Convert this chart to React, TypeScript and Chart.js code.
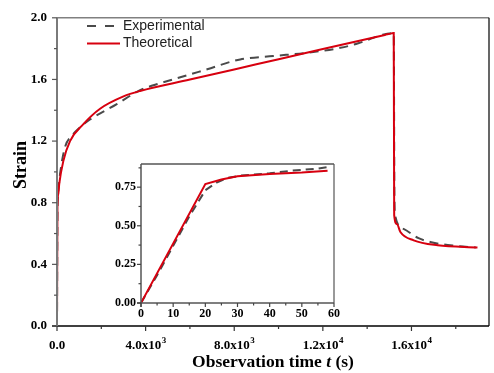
import React, { useEffect, useRef } from "react";
import { Chart, registerables } from "chart.js";
Chart.register(...registerables);

// ---------- data ----------
const expTime = [0, 20, 60, 150, 360, 700, 1040, 1490, 2700, 3750, 4650, 5240, 6780, 8270, 9760, 11300, 12790, 13600, 14280, 14700, 15200, 15230, 15260, 15640, 16320, 17000, 18000, 18900];
const expStrain = [0, 0.73, 0.88, 1.0, 1.16, 1.24, 1.29, 1.34, 1.44, 1.53, 1.575, 1.6, 1.666, 1.73, 1.752, 1.773, 1.805, 1.835, 1.87, 1.89, 1.9, 0.86, 0.72, 0.63, 0.57, 0.54, 0.52, 0.51];

const theoTime = [0, 20, 60, 100, 285, 588, 1190, 1944, 3000, 3750, 6000, 9000, 12000, 14800, 15100, 15200, 15220, 15350, 15500, 16100, 17180, 18980];
const theoStrain = [0, 0.77, 0.86, 0.92, 1.07, 1.2, 1.31, 1.41, 1.49, 1.525, 1.599, 1.698, 1.797, 1.889, 1.899, 1.902, 0.72, 0.66, 0.61, 0.556, 0.524, 0.51];

const insetExpTime = [0, 5, 10, 15, 20, 23.5, 27, 31, 40, 47, 55, 58.7];
const insetExpStrain = [0, 0.18, 0.37, 0.56, 0.73, 0.78, 0.81, 0.825, 0.84, 0.857, 0.87, 0.883];
const insetTheoTime = [0, 20, 25, 30, 40, 50, 58];
const insetTheoStrain = [0, 0.77, 0.8, 0.82, 0.835, 0.845, 0.857];

const mainXTicks = [0, 4000, 8000, 12000, 16000];
const mainXTickBase = ["0.0", "4.0x10", "8.0x10", "1.2x10", "1.6x10"];
const mainXTickExp = ["", "3", "3", "4", "4"];
const mainXMinor = [2000, 6000, 10000, 14000, 18000];
const mainYTicks = [0, 0.4, 0.8, 1.2, 1.6, 2.0];
const mainYMinor = [0.2, 0.6, 1.0, 1.4, 1.8];
const insetXTicks = [0, 10, 20, 30, 40, 50, 60];
const insetXMinor = [5, 15, 25, 35, 45, 55];
const insetYTicks = [0, 0.25, 0.5, 0.75];
const insetYMinor = [0.125, 0.375, 0.625, 0.875];

const legendLabels = ["Experimental", "Theoretical"];
const xTitleParts = ["Observation time ", "t", " (s)"];
const yTitle = "Strain";

const SERIF = '"Liberation Serif", "Times New Roman", serif';
const SANS = '"Liberation Sans", Arial, sans-serif';
const RED = "#d7000f";
const DASH = "#4a4a4a";

const zip = (xs: number[], ys: number[]) => xs.map((x, i) => ({ x, y: ys[i] }));

function line(ctx: CanvasRenderingContext2D, x1: number, y1: number, x2: number, y2: number, color: string, w: number) {
  ctx.save();
  ctx.strokeStyle = color;
  ctx.lineWidth = w;
  ctx.beginPath();
  ctx.moveTo(x1, y1);
  ctx.lineTo(x2, y2);
  ctx.stroke();
  ctx.restore();
}

const mainPlugin = {
  id: "mainDecor",
  afterDraw(chart: any) {
    const ctx: CanvasRenderingContext2D = chart.ctx;
    const a = chart.chartArea;
    const xs = chart.scales.x;
    const ys = chart.scales.y;
    // box
    line(ctx, a.left, a.top, a.right, a.top, "#808080", 1.5);
    line(ctx, a.right, a.top, a.right, a.bottom, "#000", 1.2);
    line(ctx, a.left - 5, a.bottom, a.right, a.bottom, "#000", 1.5);
    line(ctx, a.left, a.top, a.left, a.bottom, "#7a7a7a", 2);
    // ticks
    mainXTicks.forEach((v) => {
      const p = xs.getPixelForValue(v);
      line(ctx, p, a.bottom, p, a.bottom + 5, "#333", 1.2);
    });
    mainXMinor.forEach((v) => {
      const p = xs.getPixelForValue(v);
      line(ctx, p, a.bottom, p, a.bottom + 3, "#333", 1.2);
    });
    mainYTicks.forEach((v) => {
      const p = ys.getPixelForValue(v);
      line(ctx, a.left - 5, p, a.left, p, "#555", 1.2);
    });
    mainYMinor.forEach((v) => {
      const p = ys.getPixelForValue(v);
      line(ctx, a.left - 3, p, a.left, p, "#555", 1.2);
    });
    // x tick labels with superscripts
    ctx.save();
    ctx.fillStyle = "#000";
    ctx.textBaseline = "alphabetic";
    ctx.textAlign = "left";
    const fb = `bold 13px ${SERIF}`;
    const fs = `bold 9px ${SERIF}`;
    mainXTicks.forEach((v, i) => {
      const p = xs.getPixelForValue(v);
      ctx.font = fb;
      const wb = ctx.measureText(mainXTickBase[i]).width;
      ctx.font = fs;
      const we = mainXTickExp[i] ? ctx.measureText(mainXTickExp[i]).width : 0;
      const x = p - (wb + we) / 2;
      const base = 348.5;
      ctx.font = fb;
      ctx.fillText(mainXTickBase[i], x, base);
      if (mainXTickExp[i]) {
        ctx.font = fs;
        ctx.fillText(mainXTickExp[i], x + wb + 0.5, base - 5.5);
      }
    });
    ctx.restore();
    // titles
    ctx.save();
    ctx.fillStyle = "#000";
    ctx.textBaseline = "middle";
    const f1 = `bold 17.5px ${SERIF}`;
    const f2 = `bold italic 17.5px ${SERIF}`;
    ctx.font = f1;
    const w0 = ctx.measureText(xTitleParts[0]).width;
    const w2 = ctx.measureText(xTitleParts[2]).width;
    ctx.font = f2;
    const w1 = ctx.measureText(xTitleParts[1]).width;
    const total = w0 + w1 + w2;
    let x = (a.left + a.right) / 2 - total / 2;
    const ty = 362;
    ctx.font = f1;
    ctx.textAlign = "left";
    ctx.fillText(xTitleParts[0], x, ty);
    x += w0;
    ctx.font = f2;
    ctx.fillText(xTitleParts[1], x, ty);
    x += w1;
    ctx.font = f1;
    ctx.fillText(xTitleParts[2], x, ty);
    ctx.restore();
    ctx.save();
    ctx.fillStyle = "#000";
    ctx.textBaseline = "middle";
    ctx.translate(21, 165);
    ctx.rotate(-Math.PI / 2);
    ctx.textAlign = "center";
    ctx.font = `bold 18px ${SERIF}`;
    ctx.fillText(yTitle, 0, 0);
    ctx.restore();
    // legend
    ctx.save();
    ctx.lineWidth = 2;
    ctx.strokeStyle = DASH;
    ctx.setLineDash([9, 9]);
    ctx.beginPath();
    ctx.moveTo(87, 26);
    ctx.lineTo(116, 26);
    ctx.stroke();
    ctx.setLineDash([]);
    ctx.strokeStyle = RED;
    ctx.beginPath();
    ctx.moveTo(87, 43.5);
    ctx.lineTo(120, 43.5);
    ctx.stroke();
    ctx.font = `14px ${SANS}`;
    ctx.fillStyle = "#222";
    ctx.textBaseline = "middle";
    ctx.textAlign = "left";
    ctx.fillText(legendLabels[0], 123, 26);
    ctx.fillText(legendLabels[1], 123, 43.5);
    ctx.restore();
  },
};

const insetPlugin = {
  id: "insetDecor",
  beforeDraw(chart: any) {
    const ctx: CanvasRenderingContext2D = chart.ctx;
    const a = chart.chartArea;
    ctx.save();
    ctx.fillStyle = "#fff";
    ctx.fillRect(a.left, a.top, a.right - a.left, a.bottom - a.top);
    ctx.restore();
  },
  afterDraw(chart: any) {
    const ctx: CanvasRenderingContext2D = chart.ctx;
    const a = chart.chartArea;
    const xs = chart.scales.x;
    const ys = chart.scales.y;
    line(ctx, a.left, a.top, a.right, a.top, "#000", 1.2);
    line(ctx, a.right, a.top, a.right, a.bottom, "#555", 1.2);
    line(ctx, a.left - 4, a.bottom, a.right, a.bottom, "#555", 1.5);
    line(ctx, a.left, a.top, a.left, a.bottom + 4, "#555", 1.5);
    insetXTicks.forEach((v) => {
      const p = xs.getPixelForValue(v);
      line(ctx, p, a.bottom, p, a.bottom + 4, "#444", 1.2);
    });
    insetXMinor.forEach((v) => {
      const p = xs.getPixelForValue(v);
      line(ctx, p, a.bottom, p, a.bottom + 2.5, "#444", 1.2);
    });
    insetYTicks.forEach((v) => {
      const p = ys.getPixelForValue(v);
      line(ctx, a.left - 4, p, a.left, p, "#444", 1.2);
    });
    insetYMinor.forEach((v) => {
      const p = ys.getPixelForValue(v);
      line(ctx, a.left - 2.5, p, a.left, p, "#444", 1.2);
    });
  },
};

export default function App() {
  const mainRef = useRef<HTMLCanvasElement>(null);
  const insetRef = useRef<HTMLCanvasElement>(null);

  useEffect(() => {
    const tickFont = { family: SERIF, size: 13, weight: "bold" as const };
    const main = new Chart(mainRef.current!, {
      type: "line",
      data: {
        datasets: [
          {
            label: legendLabels[1],
            data: zip(theoTime, theoStrain),
            borderColor: RED,
            borderWidth: 2,
            pointRadius: 0,
            cubicInterpolationMode: "monotone",
          },
          {
            label: legendLabels[0],
            data: zip(expTime, expStrain),
            borderColor: DASH,
            borderWidth: 2,
            borderDash: [9, 6],
            pointRadius: 0,
            cubicInterpolationMode: "monotone",
          },
        ],
      },
      options: {
        animation: false,
        responsive: false,
        devicePixelRatio: 1,
        layout: { padding: { left: 0, top: 16.5, right: 5, bottom: 0 } },
        plugins: { legend: { display: false }, tooltip: { enabled: false } },
        scales: {
          x: {
            type: "linear",
            min: 0,
            max: 19500,
            grid: { display: false, drawTicks: false },
            border: { display: false },
            afterBuildTicks: (s: any) => {
              s.ticks = mainXTicks.map((v) => ({ value: v }));
            },
            afterFit: (s: any) => {
              s.height = 47;
            },
            ticks: { display: false },
          },
          y: {
            type: "linear",
            min: 0,
            max: 2.0,
            grid: { display: false, drawTicks: false },
            border: { display: false },
            afterBuildTicks: (s: any) => {
              s.ticks = mainYTicks.map((v) => ({ value: v }));
            },
            afterFit: (s: any) => {
              s.width = 57;
            },
            ticks: {
              font: tickFont,
              color: "#000",
              padding: 10,
              callback: (v: any) => Number(v).toFixed(1),
            },
          },
        },
      },
      plugins: [mainPlugin],
    });

    const insetFont = { family: SERIF, size: 12, weight: "bold" as const };
    const inset = new Chart(insetRef.current!, {
      type: "line",
      data: {
        datasets: [
          {
            label: legendLabels[1],
            data: zip(insetTheoTime, insetTheoStrain),
            borderColor: RED,
            borderWidth: 2,
            pointRadius: 0,
            tension: 0,
          },
          {
            label: legendLabels[0],
            data: zip(insetExpTime, insetExpStrain),
            borderColor: DASH,
            borderWidth: 2,
            borderDash: [8, 5],
            pointRadius: 0,
            tension: 0,
          },
        ],
      },
      options: {
        animation: false,
        responsive: false,
        devicePixelRatio: 1,
        layout: { padding: { left: 0, top: 14, right: 11, bottom: 0 } },
        plugins: { legend: { display: false }, tooltip: { enabled: false } },
        scales: {
          x: {
            type: "linear",
            min: 0,
            max: 60,
            grid: { display: false, drawTicks: false },
            border: { display: false },
            afterBuildTicks: (s: any) => {
              s.ticks = insetXTicks.map((v) => ({ value: v }));
            },
            afterFit: (s: any) => {
              s.height = 22;
            },
            ticks: {
              font: insetFont,
              color: "#000",
              padding: 4,
              maxRotation: 0,
              autoSkip: false,
              callback: (v: any) => String(v),
            },
          },
          y: {
            type: "linear",
            min: 0,
            max: 0.9,
            grid: { display: false, drawTicks: false },
            border: { display: false },
            afterBuildTicks: (s: any) => {
              s.ticks = insetYTicks.map((v) => ({ value: v }));
            },
            afterFit: (s: any) => {
              s.width = 41;
            },
            ticks: {
              font: insetFont,
              color: "#000",
              padding: 5,
              callback: (v: any) => Number(v).toFixed(2),
            },
          },
        },
      },
      plugins: [insetPlugin],
    });

    return () => {
      main.destroy();
      inset.destroy();
    };
  }, []);

  return (
    <div style={{ position: "fixed", left: 0, top: 0, width: 494, height: 373, background: "#fff" }}>
      <canvas ref={mainRef} width={494} height={373} style={{ position: "absolute", left: 0, top: 0 }} />
      <canvas ref={insetRef} width={245} height={175} style={{ position: "absolute", left: 100, top: 150 }} />
    </div>
  );
}
